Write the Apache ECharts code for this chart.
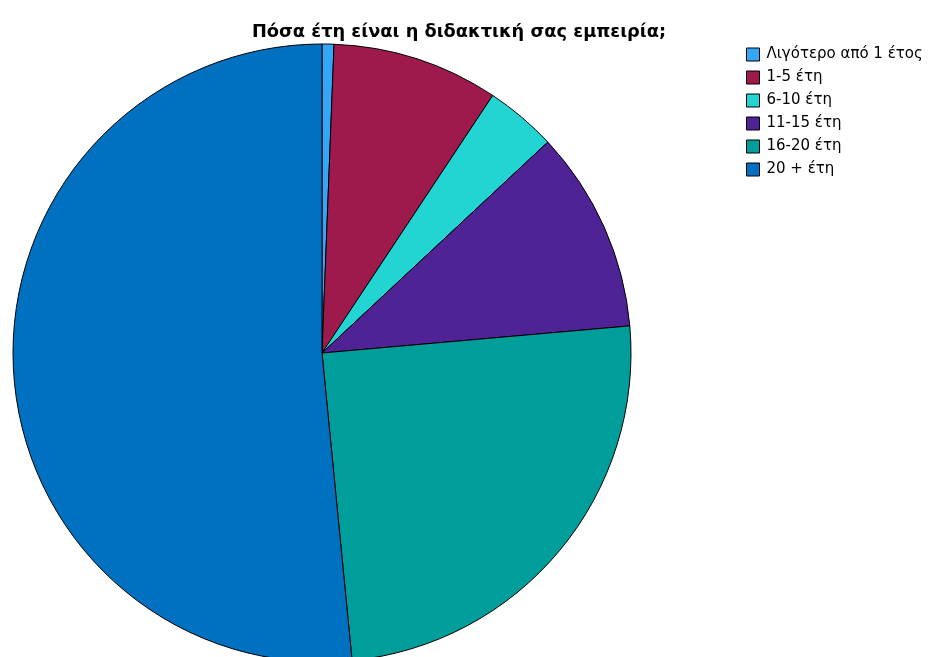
<!DOCTYPE html>
<html>
<head>
<meta charset="utf-8">
<script src="https://cdn.jsdelivr.net/npm/echarts@6/dist/echarts.min.js"></script>
<style>
  html, body { margin: 0; padding: 0; background: #fff; }
  #chart { width: 928px; height: 657px; }
</style>
</head>
<body>
<div id="chart"></div>
<script>
const categories = ['Λιγότερο από 1 έτος', '1-5 έτη', '6-10 έτη', '11-15 έτη', '16-20 έτη', '20 + έτη'];
const counts = [1, 14, 6, 17, 40, 83];
const colors = ['#33a6f7', '#9e1a4d', '#22d5d2', '#4f2396', '#009e9a', '#0070c0'];

const chart = echarts.init(document.getElementById('chart'));

const option = {
  animation: false,
  color: colors,
  title: {
    text: 'Πόσα έτη είναι η διδακτική σας εμπειρία;',
    left: 454,
    textAlign: 'center',
    top: 18,
    textStyle: {
      fontFamily: 'DejaVu Sans, sans-serif',
      fontSize: 17.8,
      fontWeight: 'bold',
      color: '#000'
    }
  },
  legend: {
    orient: 'vertical',
    left: 741,
    top: 42,
    itemWidth: 13,
    itemHeight: 13,
    itemGap: 8,
    icon: 'rect',
    selectedMode: false,
    itemStyle: { borderColor: '#000', borderWidth: 1 },
    textStyle: {
      fontFamily: 'DejaVu Sans, sans-serif',
      fontSize: 15,
      lineHeight: 13,
      color: '#000',
      padding: [0, 0, 0, 2]
    },
    data: categories
  },
  series: [{
    type: 'pie',
    center: [322, 353],
    radius: 309,
    startAngle: 90,
    clockwise: true,
    label: { show: false },
    labelLine: { show: false },
    emphasis: { disabled: true },
    itemStyle: { borderColor: '#000', borderWidth: 1 },
    data: categories.map((name, i) => ({ name: name, value: counts[i] }))
  }]
};

chart.setOption(option);
</script>
</body>
</html>
